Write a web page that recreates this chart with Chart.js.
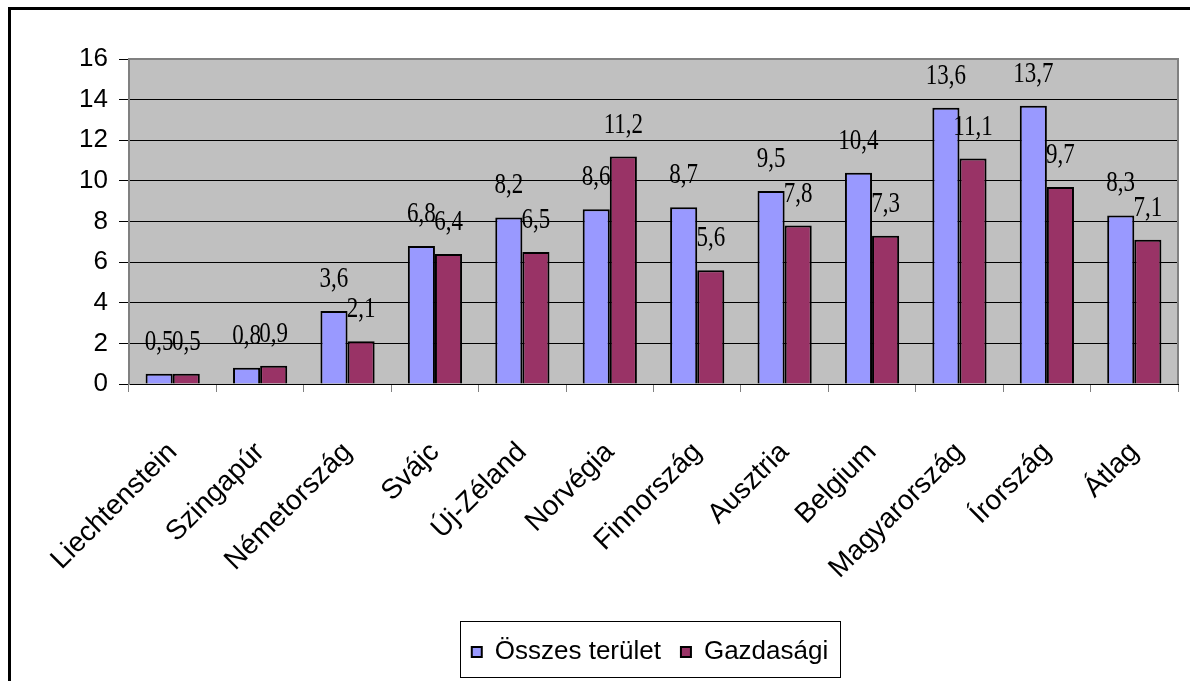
<!DOCTYPE html>
<html>
<head>
<meta charset="utf-8">
<script src="https://cdn.jsdelivr.net/npm/chart.js@4/dist/chart.umd.min.js"></script>
<style>
  html, body { margin: 0; padding: 0; background: #fff; }
  #wrap { width: 1190px; height: 681px; }
</style>
</head>
<body>
<div id="wrap"><canvas id="myChart" width="1190" height="681"></canvas></div>
<script>
const countries = ['Liechtenstein', 'Szingapúr', 'Németország', 'Svájc', 'Új-Zéland', 'Norvégia',
  'Finnország', 'Ausztria', 'Belgium', 'Magyarország', 'Írország', 'Átlag'];
const osszesTerulet = [0.5, 0.8, 3.6, 6.8, 8.2, 8.6, 8.7, 9.5, 10.4, 13.6, 13.7, 8.3];
const gazdasagi = [0.5, 0.9, 2.1, 6.4, 6.5, 11.2, 5.6, 7.8, 7.3, 11.1, 9.7, 7.1];
const yTicks = [0, 2, 4, 6, 8, 10, 12, 14, 16];

// white page, outer frame and grey plot background
const background = {
    id: 'background',
    afterLayout(chart) {
        // legend sits a bit right of the canvas centre in the original
        chart.legend.left += 51;
        chart.legend.right += 51;
    },
    beforeDraw(chart) {
        const c = chart.ctx;
        const a = chart.chartArea;
        c.save();
        c.fillStyle = '#fff';
        c.fillRect(0, 0, chart.width, chart.height);
        c.strokeStyle = '#000';
        c.lineWidth = 3;
        c.strokeRect(9.5, 8.5, 1300, 1000);
        c.fillStyle = '#c0c0c0';
        c.fillRect(a.left, a.top, a.right - a.left, a.bottom - a.top);
        c.restore();
    },
    afterDraw(chart) {
        const c = chart.ctx;
        const a = chart.chartArea;
        c.save();
        c.strokeStyle = '#808080';
        c.lineWidth = 2;
        c.beginPath();
        c.moveTo(a.left, a.top);
        c.lineTo(a.right, a.top);
        c.lineTo(a.right, a.bottom);
        c.stroke();
        // legend frame
        const boxes = chart.legend.legendHitBoxes;
        if (boxes && boxes.length) {
            const l = Math.min(...boxes.map(b => b.left)) - 12;
            const r = Math.max(...boxes.map(b => b.left + b.width)) + 12;
            const t = Math.min(...boxes.map(b => b.top)) - 18;
            const btm = Math.max(...boxes.map(b => b.top + b.height)) + 12;
            c.strokeStyle = '#000';
            c.lineWidth = 1;
            c.strokeRect(Math.round(l) + 0.5, Math.round(t) + 0.5, Math.round(r - l), Math.round(btm - t));
        }
        c.restore();
    }
};

// value labels above the bars
const valueLabels = {
    id: 'valueLabels',
    afterDatasetsDraw(chart) {
        const c = chart.ctx;
        c.save();
        c.font = '23px "Liberation Serif"';
        c.fillStyle = '#000';
        c.textAlign = 'center';
        c.textBaseline = 'alphabetic';
        chart.data.datasets.forEach((ds, i) => {
            chart.getDatasetMeta(i).data.forEach((bar, j) => {
                c.save();
                c.translate(bar.x, bar.y - 24);
                c.scale(1, 1.25);
                c.fillText(String(ds.data[j]).replace('.', ','), 0, 0);
                c.restore();
            });
        });
        c.restore();
    }
};

const ctx = document.getElementById('myChart');

new Chart(ctx, {
    type: 'bar',
    data: {
        labels: countries,
        datasets: [{
            label: 'Összes terület',
            data: osszesTerulet,
            backgroundColor: '#9999ff',
            borderColor: '#000',
            borderWidth: 2,
            categoryPercentage: 0.62,
            barPercentage: 1
        }, {
            label: 'Gazdasági',
            data: gazdasagi,
            backgroundColor: '#993366',
            borderColor: '#000',
            borderWidth: 2,
            categoryPercentage: 0.62,
            barPercentage: 1
        }]
    },
    options: {
        responsive: false,
        animation: false,
        layout: { padding: { top: 59, left: 20, right: 12, bottom: 6 } },
        plugins: {
            tooltip: { enabled: false },
            legend: {
                position: 'bottom',
                labels: {
                    color: '#000',
                    font: { family: '"Liberation Sans", Arial', size: 26 },
                    boxWidth: 10,
                    boxHeight: 10,
                    padding: 20
                }
            }
        },
        scales: {
            x: {
                grid: {
                    offset: true,
                    drawOnChartArea: false,
                    color: '#808080',
                    tickLength: 8
                },
                border: { color: '#000', width: 1 },
                ticks: {
                    color: '#000',
                    font: { family: '"Liberation Sans", Arial', size: 28 },
                    maxRotation: 45,
                    minRotation: 45,
                    autoSkip: false,
                    padding: 44
                },
                afterFit(s) {
                    s.height = 235;
                    s.paddingLeft = 0;
                    s.paddingRight = 0;
                }
            },
            y: {
                min: 0,
                max: 16,
                afterBuildTicks(s) { s.ticks = yTicks.map(v => ({ value: v })); },
                grid: {
                    color: c => (c.tick && c.tick.value === 16) ? '#808080' : '#000',
                    tickColor: '#000',
                    tickLength: 10
                },
                border: { color: '#808080', width: 2 },
                ticks: {
                    color: '#000',
                    font: { family: '"Liberation Sans", Arial', size: 26 },
                    padding: 11
                },
                afterFit(s) {
                    s.width = 109;
                    s.paddingTop = 0;
                    s.paddingBottom = 0;
                }
            }
        }
    },
    plugins: [background, valueLabels]
});
</script>
</body>
</html>
